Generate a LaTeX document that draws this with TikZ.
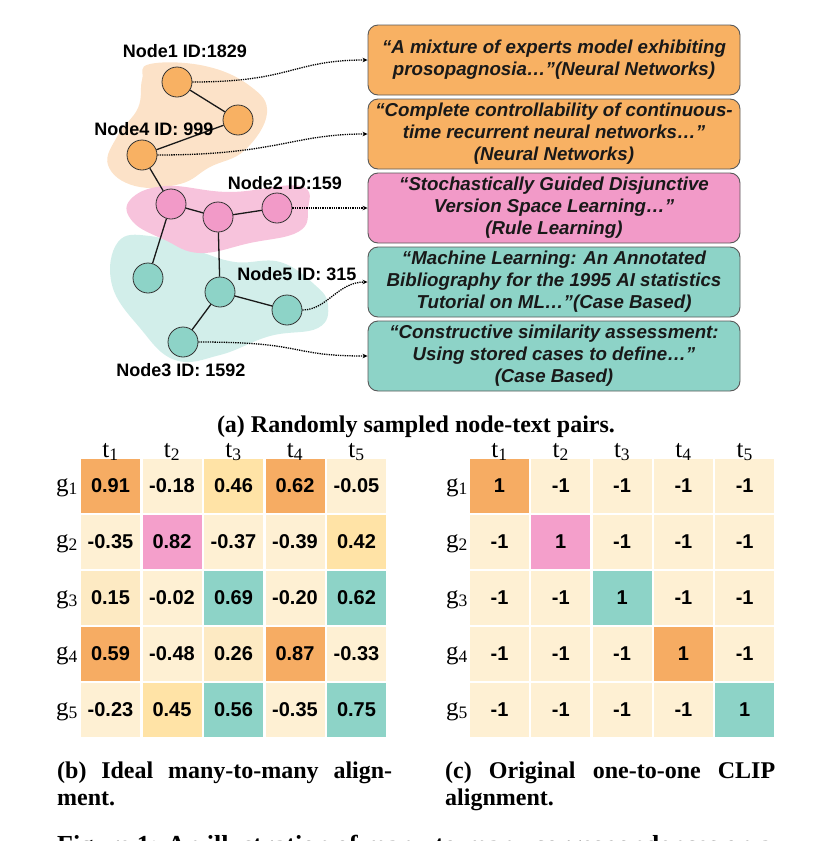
\documentclass[tikz,border=0pt]{standalone}
\usepackage{fontspec}
\setmainfont{Liberation Serif}
\setsansfont{Liberation Sans}
\usetikzlibrary{positioning,arrows.meta,calc}
\definecolor{ndorange}{HTML}{F8B163}
\definecolor{ndpink}{HTML}{F29AC8}
\definecolor{ndteal}{HTML}{8DD3C7}
\definecolor{blobO}{HTML}{FCE2C8}
\definecolor{blobP}{HTML}{F7C3DC}
\definecolor{blobT}{HTML}{D2EEEA}
\definecolor{cO}{HTML}{F6AC63}
\definecolor{cP}{HTML}{F49FCB}
\definecolor{cT}{HTML}{8DD3C7}
\definecolor{cL}{HTML}{FEF0D3}
\definecolor{cM}{HTML}{FDEAC3}
\definecolor{cY}{HTML}{FFE3A6}

\begin{document}
\begin{tikzpicture}[x=1pt, y=-1pt,
      gn/.style={circle, draw=black!80, line width=0.8pt, minimum size=30pt, inner sep=0pt},
      gnO/.style={gn, fill=ndorange},
      gnP/.style={gn, fill=ndpink},
      gnT/.style={gn, fill=ndteal},
      idlbl/.style={font=\sffamily\bfseries\fontsize{18}{18}\selectfont, inner sep=0pt},
      link/.style={line width=1.3pt, draw=black!90},
      dotarr/.style={-{Stealth[length=5pt,width=4.5pt]}, densely dotted, line width=1.3pt},
      doc/.style={draw=black!65, line width=0.9pt, rounded corners=10pt,
                  minimum width=372pt, minimum height=70pt, align=center, inner sep=2pt,
                  text=black!90, font=\sffamily\bfseries\itshape\fontsize{18.7}{22}\selectfont},
      cell/.style={minimum width=59pt, minimum height=53.5pt, inner sep=0pt,
                   font=\sffamily\bfseries\fontsize{20}{20}\selectfont},
      hdr/.style={anchor=base, inner sep=0pt, font=\fontsize{25}{25}\selectfont},
      captxt/.style={inner sep=0pt, font=\bfseries\fontsize{24}{27}\selectfont}
    ]
    \useasboundingbox (0,0) rectangle (832,841);
    % ------------- (a) graph and texts -------------
    \fill[blobO] plot[smooth cycle, tension=0.7] coordinates
      {(150,64) (205,66) (250,86) (267,113) (245,150) (210,167) (180,184) (135,186) (108,165) (118,135) (138,108) (142,80)};
    \fill[blobT] plot[smooth cycle, tension=0.7] coordinates
      {(118,242) (150,236) (195,250) (235,262) (280,262) (315,285) (328,305) (318,328) (270,336) (220,355) (175,360) (140,328) (112,285)};
    \fill[blobP] plot[smooth cycle, tension=0.7] coordinates
      {(130,200) (165,186) (230,192) (300,186) (308,210) (298,232) (250,243) (200,253) (165,240) (133,222)};

    \node[gnO] (n1) at (177,82) {};
    \node[gnO] (o2) at (238,120) {};
    \node[gnO] (n4) at (142,155) {};
    \node[gnP] (p1) at (171,204) {};
    \node[gnP] (p2) at (218,217) {};
    \node[gnP] (n2) at (277,208) {};
    \node[gnT] (t1) at (148,278) {};
    \node[gnT] (t2) at (220,292) {};
    \node[gnT] (n5) at (287,310) {};
    \node[gnT] (n3) at (183,342) {};
    \draw[link] (n1) -- (o2);
    \draw[link] (o2) -- (n4);
    \draw[link] (n4) -- (p1);
    \draw[link] (p1) -- (p2);
    \draw[link] (p2) -- (n2);
    \draw[link] (p1) -- (t1);
    \draw[link] (p2) -- (t2);
    \draw[link] (t2) -- (n5);
    \draw[link] (t2) -- (n3);

    \node[idlbl] (l1) at (185,51) {Node1 ID:1829};
    \node[idlbl] (l4) at (154,129) {Node4 ID: 999};
    \node[idlbl] (l2) at (285,183) {Node2 ID:159};
    \node[idlbl] (l5) at (297,274) {Node5 ID: 315};
    \node[idlbl] (l3) at (181,370) {Node3 ID: 1592};

    \node[doc, fill=ndorange] (d1) at (554,60) {“A mixture of experts model exhibiting\\prosopagnosia…”(Neural Networks)};
    \node[doc, fill=ndorange] (d2) at (554,134) {“Complete controllability of continuous-\\time recurrent neural networks…”\\(Neural Networks)};
    \node[doc, fill=ndpink] (d3) at (554,208) {“Stochastically Guided Disjunctive\\Version Space Learning…”\\(Rule Learning)};
    \node[doc, fill=ndteal] (d4) at (554,282) {“Machine Learning: An Annotated\\Bibliography for the 1995 AI statistics\\Tutorial on ML…”(Case Based)};
    \node[doc, fill=ndteal] (d5) at (554,356) {“Constructive similarity assessment:\\Using stored cases to define…”\\(Case Based)};

    \draw[dotarr] (n1) .. controls +(115,0) and +(-75,0) .. (d1.west);
    \draw[dotarr] (n4) .. controls +(135,0) and +(-75,0) .. (d2.west);
    \draw[dotarr] (n2) -- (d3.west);
    \draw[dotarr] (n5) .. controls +(40,0) and +(-30,0) .. (d4.west);
    \draw[dotarr] (n3) .. controls +(125,0) and +(-80,0) .. (d5.west);

    \node[captxt, anchor=base] (capa) at (416,432) {(a) Randomly sampled node-text pairs.};

    % ------------- (b) many-to-many -------------
    \foreach \row [count=\i] in {
        {0.91/cO,-0.18/cL,0.46/cY,0.62/cO,-0.05/cL},
        {-0.35/cL,0.82/cP,-0.37/cL,-0.39/cL,0.42/cY},
        {0.15/cM,-0.02/cL,0.69/cT,-0.20/cL,0.62/cT},
        {0.59/cO,-0.48/cL,0.26/cM,0.87/cO,-0.33/cL},
        {-0.23/cL,0.45/cY,0.56/cT,-0.35/cL,0.75/cT}} {
      \foreach \v/\c [count=\j] in \row
        \node[cell, fill=\c] (b-\i-\j) at ({110.5+(\j-1)*61.5},{485.75+(\i-1)*56}) {\v};
      \node[hdr] (bg-\i) at (67,{491+(\i-1)*56}) {g\textsubscript{\i}};
    }
    \foreach \j in {1,...,5}
      \node[hdr] (bt-\j) at ({110.5+(\j-1)*61.5},457) {t\textsubscript{\j}};

    % ------------- (c) one-to-one -------------
    \foreach \row [count=\i] in {
        {1/cO,-1/cL,-1/cL,-1/cL,-1/cL},
        {-1/cL,1/cP,-1/cL,-1/cL,-1/cL},
        {-1/cL,-1/cL,1/cT,-1/cL,-1/cL},
        {-1/cL,-1/cL,-1/cL,1/cO,-1/cL},
        {-1/cL,-1/cL,-1/cL,-1/cL,1/cT}} {
      \foreach \v/\c [count=\j] in \row
        \node[cell, fill=\c] (c-\i-\j) at ({499.5+(\j-1)*61.3},{485.75+(\i-1)*56}) {\v};
      \node[hdr] (cg-\i) at (457,{491+(\i-1)*56}) {g\textsubscript{\i}};
    }
    \foreach \j in {1,...,5}
      \node[hdr] (ct-\j) at ({499.5+(\j-1)*61.3},457) {t\textsubscript{\j}};

    \node[captxt, anchor=north west, text width=335pt, align=justify] (capb) at (57,762)
      {(b) Ideal many-to-many align-\linebreak ment.};
    \node[captxt, anchor=north west, text width=330pt, align=justify] (capc) at (445,762)
      {(c) Original one-to-one CLIP\linebreak alignment.};
    \node[captxt, anchor=base west, font=\bfseries\fontsize{26}{27}\selectfont] (fig) at (57,853)
      {Figure 1: An illustration of many-to-many correspondences on a};
  \end{tikzpicture}
\end{document}
